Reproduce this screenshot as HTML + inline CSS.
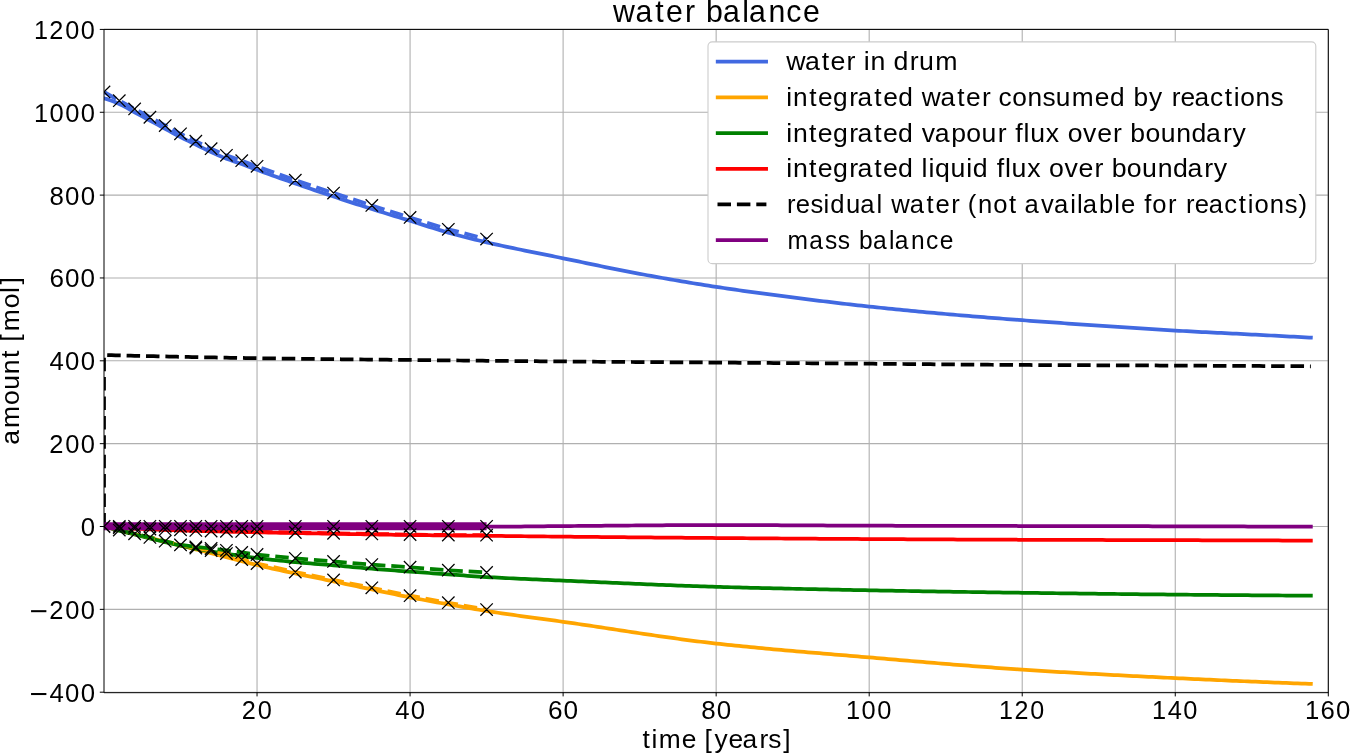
<!DOCTYPE html>
<html><head><meta charset="utf-8"><title>water balance</title>
<style>html,body{margin:0;padding:0;background:#fff;width:1350px;height:753px;overflow:hidden}svg text{-webkit-font-smoothing:antialiased}svg{will-change:transform}</style>
</head><body>
<svg width="1350" height="753" viewBox="0 0 1350 753" style="display:block">
<rect width="1350" height="753" fill="#fff"/>
<path d="M257.04,29.42V692.20M410.07,29.42V692.20M563.11,29.42V692.20M716.15,29.42V692.20M869.19,29.42V692.20M1022.22,29.42V692.20M1175.26,29.42V692.20M1328.30,29.42V692.20M104.00,692.20H1328.30M104.00,609.35H1328.30M104.00,526.50H1328.30M104.00,443.66H1328.30M104.00,360.81H1328.30M104.00,277.96H1328.30M104.00,195.11H1328.30M104.00,112.27H1328.30M104.00,29.42H1328.30" stroke="#b0b0b0" stroke-width="1.1" fill="none"/>
<defs><clipPath id="ax"><rect x="104.0" y="29.42" width="1224.3" height="662.7800000000001"/></clipPath></defs>
<g clip-path="url(#ax)" fill="none" stroke-linejoin="round">
<path d="M104.00,98.18 L107.83,99.41 L111.65,100.80 L115.48,102.33 L119.30,103.98 L123.13,105.85 L126.96,107.94 L130.78,110.13 L134.61,112.27 L138.43,114.34 L142.26,116.41 L146.09,118.48 L149.91,120.55 L153.74,122.62 L157.56,124.69 L161.39,126.77 L165.22,128.84 L169.04,130.93 L172.87,133.03 L176.69,135.11 L180.52,137.12 L184.34,139.04 L188.17,140.90 L192.00,142.73 L195.82,144.58 L199.65,146.46 L203.47,148.36 L207.30,150.23 L211.13,152.03 L214.95,153.78 L218.78,155.48 L222.60,157.12 L226.43,158.66 L230.26,160.08 L234.08,161.40 L237.91,162.70 L241.73,164.05 L245.56,165.47 L249.39,166.94 L253.21,168.41 L257.04,169.85 L260.86,171.25 L264.69,172.65 L268.52,174.04 L272.34,175.41 L276.17,176.78 L279.99,178.14 L283.82,179.49 L287.64,180.84 L291.47,182.18 L295.30,183.52 L299.12,184.85 L302.95,186.18 L306.77,187.50 L310.60,188.81 L314.43,190.12 L318.25,191.42 L322.08,192.72 L325.90,194.01 L329.73,195.29 L333.56,196.56 L337.38,197.83 L341.21,199.10 L345.03,200.36 L348.86,201.61 L352.69,202.86 L356.51,204.10 L360.34,205.33 L364.16,206.56 L367.99,207.78 L371.82,208.99 L375.64,210.20 L379.47,211.39 L383.29,212.58 L387.12,213.76 L390.95,214.93 L394.77,216.10 L398.60,217.28 L402.42,218.45 L406.25,219.62 L410.07,220.80 L413.90,221.99 L417.73,223.20 L421.55,224.41 L425.38,225.63 L429.20,226.84 L433.03,228.04 L436.86,229.23 L440.68,230.39 L444.51,231.51 L448.33,232.60 L452.16,233.66 L455.99,234.70 L459.81,235.72 L463.64,236.72 L467.46,237.70 L471.29,238.66 L475.12,239.60 L478.94,240.53 L482.77,241.44 L486.59,242.34 L490.42,243.22 L494.25,244.08 L498.07,244.93 L501.90,245.76 L505.72,246.59 L509.55,247.40 L513.38,248.20 L517.20,248.99 L521.03,249.78 L524.85,250.56 L528.68,251.34 L532.50,252.11 L536.33,252.88 L540.16,253.64 L543.98,254.41 L547.81,255.18 L551.63,255.95 L555.46,256.72 L559.29,257.50 L563.11,258.29 L566.94,259.08 L570.76,259.87 L574.59,260.66 L578.42,261.46 L582.24,262.26 L586.07,263.06 L589.89,263.86 L593.72,264.66 L597.55,265.45 L601.37,266.25 L605.20,267.04 L609.02,267.82 L612.85,268.60 L616.68,269.37 L620.50,270.14 L624.33,270.89 L628.15,271.64 L631.98,272.38 L635.81,273.10 L639.63,273.82 L643.46,274.53 L647.28,275.23 L651.11,275.93 L654.93,276.62 L658.76,277.31 L662.59,277.99 L666.41,278.66 L670.24,279.33 L674.06,280.00 L677.89,280.66 L681.72,281.31 L685.54,281.96 L689.37,282.60 L693.19,283.23 L697.02,283.85 L700.85,284.47 L704.67,285.08 L708.50,285.69 L712.32,286.28 L716.15,286.87 L719.98,287.45 L723.80,288.02 L727.63,288.59 L731.45,289.15 L735.28,289.70 L739.11,290.25 L742.93,290.79 L746.76,291.33 L750.58,291.86 L754.41,292.39 L758.24,292.91 L762.06,293.43 L765.89,293.94 L769.71,294.45 L773.54,294.95 L777.37,295.45 L781.19,295.95 L785.02,296.45 L788.84,296.94 L792.67,297.43 L796.49,297.92 L800.32,298.41 L804.15,298.89 L807.97,299.37 L811.80,299.85 L815.62,300.32 L819.45,300.79 L823.28,301.26 L827.10,301.73 L830.93,302.19 L834.75,302.64 L838.58,303.10 L842.41,303.54 L846.23,303.99 L850.06,304.43 L853.88,304.86 L857.71,305.29 L861.54,305.71 L865.36,306.13 L869.19,306.54 L873.01,306.95 L876.84,307.36 L880.67,307.76 L884.49,308.15 L888.32,308.55 L892.14,308.93 L895.97,309.32 L899.79,309.70 L903.62,310.08 L907.45,310.45 L911.27,310.82 L915.10,311.19 L918.92,311.55 L922.75,311.91 L926.58,312.27 L930.40,312.62 L934.23,312.97 L938.05,313.32 L941.88,313.66 L945.71,314.00 L949.53,314.34 L953.36,314.67 L957.18,315.00 L961.01,315.33 L964.84,315.65 L968.66,315.98 L972.49,316.29 L976.31,316.61 L980.14,316.92 L983.97,317.23 L987.79,317.54 L991.62,317.85 L995.44,318.15 L999.27,318.45 L1003.10,318.75 L1006.92,319.05 L1010.75,319.34 L1014.57,319.63 L1018.40,319.93 L1022.22,320.21 L1026.05,320.50 L1029.88,320.79 L1033.70,321.07 L1037.53,321.35 L1041.35,321.63 L1045.18,321.90 L1049.01,322.17 L1052.83,322.44 L1056.66,322.71 L1060.48,322.98 L1064.31,323.25 L1068.14,323.51 L1071.96,323.78 L1075.79,324.04 L1079.61,324.30 L1083.44,324.56 L1087.27,324.82 L1091.09,325.08 L1094.92,325.34 L1098.74,325.60 L1102.57,325.86 L1106.40,326.12 L1110.22,326.38 L1114.05,326.64 L1117.87,326.90 L1121.70,327.16 L1125.53,327.42 L1129.35,327.67 L1133.18,327.93 L1137.00,328.18 L1140.83,328.43 L1144.65,328.68 L1148.48,328.93 L1152.31,329.18 L1156.13,329.42 L1159.96,329.66 L1163.78,329.89 L1167.61,330.12 L1171.44,330.35 L1175.26,330.57 L1179.09,330.79 L1182.91,331.00 L1186.74,331.21 L1190.57,331.41 L1194.39,331.62 L1198.22,331.82 L1202.04,332.01 L1205.87,332.21 L1209.70,332.40 L1213.52,332.59 L1217.35,332.78 L1221.17,332.97 L1225.00,333.16 L1228.83,333.35 L1232.65,333.54 L1236.48,333.73 L1240.30,333.92 L1244.13,334.11 L1247.96,334.31 L1251.78,334.51 L1255.61,334.71 L1259.43,334.90 L1263.26,335.10 L1267.09,335.30 L1270.91,335.50 L1274.74,335.71 L1278.56,335.91 L1282.39,336.11 L1286.21,336.31 L1290.04,336.51 L1293.87,336.71 L1297.69,336.92 L1301.52,337.12 L1305.34,337.32 L1309.17,337.52 L1310.85,337.61" stroke="#4169e1" stroke-width="3.75" stroke-linecap="square"/>
<path d="M104.00,526.50 L107.83,527.46 L111.65,528.41 L115.48,529.36 L119.30,530.32 L123.13,531.27 L126.96,532.22 L130.78,533.17 L134.61,534.13 L138.43,535.08 L142.26,536.03 L146.09,536.99 L149.91,537.94 L153.74,538.89 L157.56,539.84 L161.39,540.80 L165.22,541.75 L169.04,542.70 L172.87,543.65 L176.69,544.61 L180.52,545.56 L184.34,546.51 L188.17,547.46 L192.00,548.41 L195.82,549.35 L199.65,550.30 L203.47,551.25 L207.30,552.20 L211.13,553.16 L214.95,554.12 L218.78,555.09 L222.60,556.07 L226.43,557.07 L230.26,558.09 L234.08,559.11 L237.91,560.13 L241.73,561.14 L245.56,562.15 L249.39,563.13 L253.21,564.10 L257.04,565.03 L260.86,565.94 L264.69,566.82 L268.52,567.70 L272.34,568.55 L276.17,569.40 L279.99,570.23 L283.82,571.06 L287.64,571.89 L291.47,572.70 L295.30,573.52 L299.12,574.33 L302.95,575.13 L306.77,575.92 L310.60,576.70 L314.43,577.48 L318.25,578.26 L322.08,579.03 L325.90,579.81 L329.73,580.60 L333.56,581.39 L337.38,582.19 L341.21,583.00 L345.03,583.81 L348.86,584.62 L352.69,585.43 L356.51,586.24 L360.34,587.05 L364.16,587.86 L367.99,588.67 L371.82,589.47 L375.64,590.27 L379.47,591.07 L383.29,591.87 L387.12,592.67 L390.95,593.47 L394.77,594.26 L398.60,595.05 L402.42,595.82 L406.25,596.59 L410.07,597.34 L413.90,598.08 L417.73,598.80 L421.55,599.52 L425.38,600.23 L429.20,600.94 L433.03,601.63 L436.86,602.33 L440.68,603.01 L444.51,603.70 L448.33,604.38 L452.16,605.07 L455.99,605.75 L459.81,606.44 L463.64,607.12 L467.46,607.80 L471.29,608.47 L475.12,609.12 L478.94,609.77 L482.77,610.40 L486.59,611.01 L490.42,611.60 L494.25,612.19 L498.07,612.76 L501.90,613.32 L505.72,613.88 L509.55,614.42 L513.38,614.96 L517.20,615.49 L521.03,616.02 L524.85,616.55 L528.68,617.07 L532.50,617.59 L536.33,618.10 L540.16,618.62 L543.98,619.14 L547.81,619.66 L551.63,620.18 L555.46,620.71 L559.29,621.24 L563.11,621.78 L566.94,622.32 L570.76,622.87 L574.59,623.43 L578.42,623.99 L582.24,624.55 L586.07,625.12 L589.89,625.69 L593.72,626.27 L597.55,626.85 L601.37,627.43 L605.20,628.01 L609.02,628.59 L612.85,629.17 L616.68,629.76 L620.50,630.34 L624.33,630.92 L628.15,631.51 L631.98,632.09 L635.81,632.66 L639.63,633.24 L643.46,633.81 L647.28,634.38 L651.11,634.95 L654.93,635.51 L658.76,636.07 L662.59,636.62 L666.41,637.16 L670.24,637.70 L674.06,638.23 L677.89,638.76 L681.72,639.28 L685.54,639.79 L689.37,640.29 L693.19,640.78 L697.02,641.27 L700.85,641.74 L704.67,642.20 L708.50,642.66 L712.32,643.10 L716.15,643.53 L719.98,643.95 L723.80,644.36 L727.63,644.77 L731.45,645.17 L735.28,645.57 L739.11,645.96 L742.93,646.34 L746.76,646.72 L750.58,647.10 L754.41,647.47 L758.24,647.83 L762.06,648.20 L765.89,648.55 L769.71,648.91 L773.54,649.26 L777.37,649.60 L781.19,649.95 L785.02,650.29 L788.84,650.62 L792.67,650.96 L796.49,651.29 L800.32,651.62 L804.15,651.95 L807.97,652.27 L811.80,652.60 L815.62,652.92 L819.45,653.24 L823.28,653.56 L827.10,653.88 L830.93,654.20 L834.75,654.52 L838.58,654.84 L842.41,655.16 L846.23,655.48 L850.06,655.80 L853.88,656.12 L857.71,656.44 L861.54,656.76 L865.36,657.08 L869.19,657.40 L873.01,657.73 L876.84,658.06 L880.67,658.38 L884.49,658.71 L888.32,659.04 L892.14,659.36 L895.97,659.69 L899.79,660.02 L903.62,660.34 L907.45,660.67 L911.27,661.00 L915.10,661.32 L918.92,661.65 L922.75,661.97 L926.58,662.29 L930.40,662.61 L934.23,662.94 L938.05,663.25 L941.88,663.57 L945.71,663.89 L949.53,664.20 L953.36,664.51 L957.18,664.82 L961.01,665.13 L964.84,665.43 L968.66,665.73 L972.49,666.03 L976.31,666.33 L980.14,666.62 L983.97,666.91 L987.79,667.20 L991.62,667.49 L995.44,667.77 L999.27,668.04 L1003.10,668.32 L1006.92,668.59 L1010.75,668.85 L1014.57,669.11 L1018.40,669.37 L1022.22,669.62 L1026.05,669.87 L1029.88,670.12 L1033.70,670.36 L1037.53,670.61 L1041.35,670.85 L1045.18,671.08 L1049.01,671.32 L1052.83,671.55 L1056.66,671.79 L1060.48,672.01 L1064.31,672.24 L1068.14,672.47 L1071.96,672.69 L1075.79,672.91 L1079.61,673.13 L1083.44,673.35 L1087.27,673.56 L1091.09,673.78 L1094.92,673.99 L1098.74,674.20 L1102.57,674.41 L1106.40,674.62 L1110.22,674.82 L1114.05,675.03 L1117.87,675.23 L1121.70,675.43 L1125.53,675.63 L1129.35,675.83 L1133.18,676.03 L1137.00,676.22 L1140.83,676.42 L1144.65,676.61 L1148.48,676.80 L1152.31,676.99 L1156.13,677.18 L1159.96,677.37 L1163.78,677.56 L1167.61,677.75 L1171.44,677.93 L1175.26,678.12 L1179.09,678.30 L1182.91,678.48 L1186.74,678.66 L1190.57,678.84 L1194.39,679.02 L1198.22,679.20 L1202.04,679.38 L1205.87,679.56 L1209.70,679.73 L1213.52,679.91 L1217.35,680.08 L1221.17,680.25 L1225.00,680.42 L1228.83,680.59 L1232.65,680.76 L1236.48,680.92 L1240.30,681.09 L1244.13,681.25 L1247.96,681.42 L1251.78,681.58 L1255.61,681.74 L1259.43,681.90 L1263.26,682.06 L1267.09,682.21 L1270.91,682.37 L1274.74,682.52 L1278.56,682.68 L1282.39,682.83 L1286.21,682.98 L1290.04,683.13 L1293.87,683.28 L1297.69,683.42 L1301.52,683.57 L1305.34,683.71 L1309.17,683.85 L1310.85,683.92" stroke="#ffa500" stroke-width="3.75" stroke-linecap="square"/>
<path d="M104.00,526.50 L107.83,527.54 L111.65,528.56 L115.48,529.58 L119.30,530.58 L123.13,531.58 L126.96,532.57 L130.78,533.55 L134.61,534.53 L138.43,535.49 L142.26,536.45 L146.09,537.40 L149.91,538.36 L153.74,539.31 L157.56,540.26 L161.39,541.20 L165.22,542.12 L169.04,543.02 L172.87,543.90 L176.69,544.75 L180.52,545.56 L184.34,546.35 L188.17,547.11 L192.00,547.86 L195.82,548.60 L199.65,549.31 L203.47,550.01 L207.30,550.68 L211.13,551.34 L214.95,551.98 L218.78,552.60 L222.60,553.20 L226.43,553.79 L230.26,554.37 L234.08,554.93 L237.91,555.47 L241.73,556.00 L245.56,556.52 L249.39,557.02 L253.21,557.51 L257.04,557.99 L260.86,558.45 L264.69,558.90 L268.52,559.34 L272.34,559.77 L276.17,560.19 L279.99,560.60 L283.82,561.00 L287.64,561.39 L291.47,561.76 L295.30,562.13 L299.12,562.48 L302.95,562.82 L306.77,563.14 L310.60,563.46 L314.43,563.76 L318.25,564.07 L322.08,564.37 L325.90,564.68 L329.73,565.00 L333.56,565.32 L337.38,565.65 L341.21,565.99 L345.03,566.34 L348.86,566.69 L352.69,567.04 L356.51,567.39 L360.34,567.73 L364.16,568.07 L367.99,568.40 L371.82,568.72 L375.64,569.03 L379.47,569.33 L383.29,569.62 L387.12,569.92 L390.95,570.20 L394.77,570.49 L398.60,570.77 L402.42,571.05 L406.25,571.33 L410.07,571.62 L413.90,571.90 L417.73,572.17 L421.55,572.45 L425.38,572.72 L429.20,573.00 L433.03,573.27 L436.86,573.54 L440.68,573.81 L444.51,574.08 L448.33,574.35 L452.16,574.62 L455.99,574.91 L459.81,575.19 L463.64,575.48 L467.46,575.76 L471.29,576.04 L475.12,576.31 L478.94,576.57 L482.77,576.81 L486.59,577.04 L490.42,577.26 L494.25,577.47 L498.07,577.67 L501.90,577.87 L505.72,578.06 L509.55,578.25 L513.38,578.43 L517.20,578.61 L521.03,578.78 L524.85,578.95 L528.68,579.12 L532.50,579.29 L536.33,579.46 L540.16,579.62 L543.98,579.78 L547.81,579.95 L551.63,580.11 L555.46,580.27 L559.29,580.44 L563.11,580.60 L566.94,580.77 L570.76,580.94 L574.59,581.11 L578.42,581.28 L582.24,581.45 L586.07,581.62 L589.89,581.79 L593.72,581.96 L597.55,582.14 L601.37,582.31 L605.20,582.48 L609.02,582.65 L612.85,582.82 L616.68,582.99 L620.50,583.16 L624.33,583.33 L628.15,583.49 L631.98,583.66 L635.81,583.83 L639.63,583.99 L643.46,584.15 L647.28,584.31 L651.11,584.47 L654.93,584.63 L658.76,584.79 L662.59,584.94 L666.41,585.09 L670.24,585.24 L674.06,585.39 L677.89,585.53 L681.72,585.68 L685.54,585.81 L689.37,585.95 L693.19,586.08 L697.02,586.22 L700.85,586.34 L704.67,586.47 L708.50,586.59 L712.32,586.70 L716.15,586.82 L719.98,586.93 L723.80,587.04 L727.63,587.14 L731.45,587.25 L735.28,587.35 L739.11,587.46 L742.93,587.56 L746.76,587.66 L750.58,587.76 L754.41,587.85 L758.24,587.95 L762.06,588.04 L765.89,588.14 L769.71,588.23 L773.54,588.32 L777.37,588.41 L781.19,588.49 L785.02,588.58 L788.84,588.67 L792.67,588.75 L796.49,588.84 L800.32,588.92 L804.15,589.00 L807.97,589.08 L811.80,589.16 L815.62,589.24 L819.45,589.32 L823.28,589.40 L827.10,589.48 L830.93,589.56 L834.75,589.63 L838.58,589.71 L842.41,589.78 L846.23,589.86 L850.06,589.93 L853.88,590.01 L857.71,590.08 L861.54,590.15 L865.36,590.22 L869.19,590.30 L873.01,590.37 L876.84,590.44 L880.67,590.51 L884.49,590.58 L888.32,590.65 L892.14,590.72 L895.97,590.79 L899.79,590.86 L903.62,590.93 L907.45,591.00 L911.27,591.06 L915.10,591.13 L918.92,591.19 L922.75,591.26 L926.58,591.32 L930.40,591.39 L934.23,591.45 L938.05,591.51 L941.88,591.58 L945.71,591.64 L949.53,591.70 L953.36,591.76 L957.18,591.82 L961.01,591.88 L964.84,591.94 L968.66,592.00 L972.49,592.06 L976.31,592.12 L980.14,592.18 L983.97,592.23 L987.79,592.29 L991.62,592.35 L995.44,592.40 L999.27,592.46 L1003.10,592.51 L1006.92,592.57 L1010.75,592.62 L1014.57,592.68 L1018.40,592.73 L1022.22,592.78 L1026.05,592.84 L1029.88,592.89 L1033.70,592.94 L1037.53,592.99 L1041.35,593.04 L1045.18,593.09 L1049.01,593.14 L1052.83,593.20 L1056.66,593.25 L1060.48,593.30 L1064.31,593.35 L1068.14,593.39 L1071.96,593.44 L1075.79,593.49 L1079.61,593.54 L1083.44,593.59 L1087.27,593.64 L1091.09,593.68 L1094.92,593.73 L1098.74,593.78 L1102.57,593.82 L1106.40,593.87 L1110.22,593.91 L1114.05,593.96 L1117.87,594.00 L1121.70,594.04 L1125.53,594.09 L1129.35,594.13 L1133.18,594.17 L1137.00,594.22 L1140.83,594.26 L1144.65,594.30 L1148.48,594.34 L1152.31,594.38 L1156.13,594.42 L1159.96,594.46 L1163.78,594.49 L1167.61,594.53 L1171.44,594.57 L1175.26,594.61 L1179.09,594.64 L1182.91,594.68 L1186.74,594.71 L1190.57,594.75 L1194.39,594.78 L1198.22,594.82 L1202.04,594.85 L1205.87,594.89 L1209.70,594.92 L1213.52,594.95 L1217.35,594.99 L1221.17,595.02 L1225.00,595.05 L1228.83,595.09 L1232.65,595.12 L1236.48,595.15 L1240.30,595.18 L1244.13,595.21 L1247.96,595.24 L1251.78,595.27 L1255.61,595.30 L1259.43,595.33 L1263.26,595.36 L1267.09,595.39 L1270.91,595.42 L1274.74,595.44 L1278.56,595.47 L1282.39,595.50 L1286.21,595.52 L1290.04,595.55 L1293.87,595.57 L1297.69,595.60 L1301.52,595.62 L1305.34,595.65 L1309.17,595.67 L1310.85,595.68" stroke="#008000" stroke-width="3.75" stroke-linecap="square"/>
<path d="M104.00,526.50 L107.83,526.80 L111.65,527.09 L115.48,527.37 L119.30,527.64 L123.13,527.89 L126.96,528.14 L130.78,528.37 L134.61,528.59 L138.43,528.80 L142.26,528.99 L146.09,529.17 L149.91,529.34 L153.74,529.50 L157.56,529.65 L161.39,529.80 L165.22,529.94 L169.04,530.07 L172.87,530.20 L176.69,530.32 L180.52,530.44 L184.34,530.55 L188.17,530.67 L192.00,530.77 L195.82,530.88 L199.65,530.98 L203.47,531.08 L207.30,531.18 L211.13,531.27 L214.95,531.37 L218.78,531.46 L222.60,531.55 L226.43,531.64 L230.26,531.72 L234.08,531.81 L237.91,531.89 L241.73,531.98 L245.56,532.06 L249.39,532.14 L253.21,532.22 L257.04,532.30 L260.86,532.39 L264.69,532.46 L268.52,532.54 L272.34,532.62 L276.17,532.70 L279.99,532.77 L283.82,532.85 L287.64,532.92 L291.47,532.99 L295.30,533.07 L299.12,533.14 L302.95,533.21 L306.77,533.28 L310.60,533.35 L314.43,533.42 L318.25,533.48 L322.08,533.55 L325.90,533.62 L329.73,533.69 L333.56,533.75 L337.38,533.82 L341.21,533.89 L345.03,533.96 L348.86,534.02 L352.69,534.09 L356.51,534.16 L360.34,534.22 L364.16,534.29 L367.99,534.35 L371.82,534.42 L375.64,534.48 L379.47,534.54 L383.29,534.61 L387.12,534.67 L390.95,534.73 L394.77,534.78 L398.60,534.84 L402.42,534.89 L406.25,534.95 L410.07,535.00 L413.90,535.05 L417.73,535.09 L421.55,535.14 L425.38,535.18 L429.20,535.23 L433.03,535.27 L436.86,535.31 L440.68,535.35 L444.51,535.39 L448.33,535.43 L452.16,535.47 L455.99,535.51 L459.81,535.55 L463.64,535.59 L467.46,535.63 L471.29,535.66 L475.12,535.70 L478.94,535.74 L482.77,535.78 L486.59,535.83 L490.42,535.87 L494.25,535.91 L498.07,535.95 L501.90,535.99 L505.72,536.04 L509.55,536.08 L513.38,536.12 L517.20,536.16 L521.03,536.21 L524.85,536.25 L528.68,536.29 L532.50,536.33 L536.33,536.37 L540.16,536.42 L543.98,536.46 L547.81,536.50 L551.63,536.54 L555.46,536.58 L559.29,536.62 L563.11,536.65 L566.94,536.69 L570.76,536.73 L574.59,536.77 L578.42,536.80 L582.24,536.84 L586.07,536.88 L589.89,536.92 L593.72,536.95 L597.55,536.99 L601.37,537.03 L605.20,537.06 L609.02,537.10 L612.85,537.13 L616.68,537.17 L620.50,537.20 L624.33,537.24 L628.15,537.28 L631.98,537.31 L635.81,537.34 L639.63,537.38 L643.46,537.41 L647.28,537.45 L651.11,537.48 L654.93,537.52 L658.76,537.55 L662.59,537.58 L666.41,537.61 L670.24,537.65 L674.06,537.68 L677.89,537.71 L681.72,537.74 L685.54,537.78 L689.37,537.81 L693.19,537.84 L697.02,537.87 L700.85,537.90 L704.67,537.93 L708.50,537.96 L712.32,537.99 L716.15,538.02 L719.98,538.05 L723.80,538.08 L727.63,538.11 L731.45,538.14 L735.28,538.17 L739.11,538.20 L742.93,538.22 L746.76,538.25 L750.58,538.28 L754.41,538.31 L758.24,538.34 L762.06,538.36 L765.89,538.39 L769.71,538.42 L773.54,538.45 L777.37,538.47 L781.19,538.50 L785.02,538.53 L788.84,538.55 L792.67,538.58 L796.49,538.61 L800.32,538.63 L804.15,538.66 L807.97,538.68 L811.80,538.71 L815.62,538.73 L819.45,538.76 L823.28,538.78 L827.10,538.81 L830.93,538.83 L834.75,538.86 L838.58,538.88 L842.41,538.90 L846.23,538.93 L850.06,538.95 L853.88,538.97 L857.71,538.99 L861.54,539.01 L865.36,539.04 L869.19,539.06 L873.01,539.08 L876.84,539.10 L880.67,539.12 L884.49,539.14 L888.32,539.16 L892.14,539.18 L895.97,539.20 L899.79,539.22 L903.62,539.24 L907.45,539.26 L911.27,539.28 L915.10,539.30 L918.92,539.32 L922.75,539.34 L926.58,539.36 L930.40,539.37 L934.23,539.39 L938.05,539.41 L941.88,539.43 L945.71,539.45 L949.53,539.47 L953.36,539.48 L957.18,539.50 L961.01,539.52 L964.84,539.54 L968.66,539.55 L972.49,539.57 L976.31,539.58 L980.14,539.60 L983.97,539.62 L987.79,539.63 L991.62,539.65 L995.44,539.66 L999.27,539.68 L1003.10,539.69 L1006.92,539.71 L1010.75,539.72 L1014.57,539.73 L1018.40,539.75 L1022.22,539.76 L1026.05,539.77 L1029.88,539.79 L1033.70,539.80 L1037.53,539.81 L1041.35,539.82 L1045.18,539.83 L1049.01,539.85 L1052.83,539.86 L1056.66,539.87 L1060.48,539.88 L1064.31,539.89 L1068.14,539.90 L1071.96,539.91 L1075.79,539.92 L1079.61,539.93 L1083.44,539.94 L1087.27,539.95 L1091.09,539.96 L1094.92,539.97 L1098.74,539.98 L1102.57,539.99 L1106.40,540.00 L1110.22,540.01 L1114.05,540.02 L1117.87,540.03 L1121.70,540.03 L1125.53,540.04 L1129.35,540.05 L1133.18,540.06 L1137.00,540.07 L1140.83,540.08 L1144.65,540.09 L1148.48,540.10 L1152.31,540.11 L1156.13,540.12 L1159.96,540.13 L1163.78,540.14 L1167.61,540.15 L1171.44,540.16 L1175.26,540.17 L1179.09,540.19 L1182.91,540.20 L1186.74,540.21 L1190.57,540.22 L1194.39,540.23 L1198.22,540.24 L1202.04,540.25 L1205.87,540.26 L1209.70,540.28 L1213.52,540.29 L1217.35,540.30 L1221.17,540.31 L1225.00,540.32 L1228.83,540.33 L1232.65,540.34 L1236.48,540.36 L1240.30,540.37 L1244.13,540.38 L1247.96,540.39 L1251.78,540.40 L1255.61,540.41 L1259.43,540.43 L1263.26,540.44 L1267.09,540.45 L1270.91,540.46 L1274.74,540.47 L1278.56,540.49 L1282.39,540.50 L1286.21,540.51 L1290.04,540.52 L1293.87,540.53 L1297.69,540.55 L1301.52,540.56 L1305.34,540.57 L1309.17,540.58 L1310.85,540.59" stroke="#ff0000" stroke-width="3.75" stroke-linecap="square"/>
<path d="M104.00,526.50 L104.00,355.01 L107.83,355.11 L111.65,355.20 L115.48,355.30 L119.30,355.39 L123.13,355.49 L126.96,355.58 L130.78,355.68 L134.61,355.77 L138.43,355.86 L142.26,355.95 L146.09,356.04 L149.91,356.13 L153.74,356.22 L157.56,356.30 L161.39,356.39 L165.22,356.47 L169.04,356.56 L172.87,356.64 L176.69,356.72 L180.52,356.81 L184.34,356.89 L188.17,356.97 L192.00,357.04 L195.82,357.12 L199.65,357.20 L203.47,357.27 L207.30,357.35 L211.13,357.42 L214.95,357.49 L218.78,357.56 L222.60,357.63 L226.43,357.70 L230.26,357.77 L234.08,357.83 L237.91,357.90 L241.73,357.96 L245.56,358.02 L249.39,358.08 L253.21,358.14 L257.04,358.20 L260.86,358.26 L264.69,358.31 L268.52,358.37 L272.34,358.42 L276.17,358.47 L279.99,358.53 L283.82,358.58 L287.64,358.63 L291.47,358.68 L295.30,358.72 L299.12,358.77 L302.95,358.82 L306.77,358.87 L310.60,358.91 L314.43,358.96 L318.25,359.00 L322.08,359.04 L325.90,359.09 L329.73,359.13 L333.56,359.17 L337.38,359.22 L341.21,359.26 L345.03,359.30 L348.86,359.34 L352.69,359.38 L356.51,359.42 L360.34,359.46 L364.16,359.50 L367.99,359.54 L371.82,359.58 L375.64,359.62 L379.47,359.66 L383.29,359.70 L387.12,359.74 L390.95,359.78 L394.77,359.82 L398.60,359.86 L402.42,359.90 L406.25,359.94 L410.07,359.98 L413.90,360.02 L417.73,360.06 L421.55,360.10 L425.38,360.14 L429.20,360.18 L433.03,360.22 L436.86,360.26 L440.68,360.30 L444.51,360.34 L448.33,360.38 L452.16,360.42 L455.99,360.46 L459.81,360.50 L463.64,360.54 L467.46,360.58 L471.29,360.62 L475.12,360.66 L478.94,360.69 L482.77,360.73 L486.59,360.77 L490.42,360.81 L494.25,360.85 L498.07,360.88 L501.90,360.92 L505.72,360.96 L509.55,360.99 L513.38,361.03 L517.20,361.07 L521.03,361.10 L524.85,361.14 L528.68,361.17 L532.50,361.21 L536.33,361.24 L540.16,361.27 L543.98,361.31 L547.81,361.34 L551.63,361.38 L555.46,361.41 L559.29,361.44 L563.11,361.47 L566.94,361.50 L570.76,361.54 L574.59,361.57 L578.42,361.60 L582.24,361.63 L586.07,361.66 L589.89,361.69 L593.72,361.72 L597.55,361.75 L601.37,361.77 L605.20,361.80 L609.02,361.83 L612.85,361.86 L616.68,361.89 L620.50,361.92 L624.33,361.94 L628.15,361.97 L631.98,362.00 L635.81,362.02 L639.63,362.05 L643.46,362.08 L647.28,362.11 L651.11,362.13 L654.93,362.16 L658.76,362.19 L662.59,362.21 L666.41,362.24 L670.24,362.27 L674.06,362.29 L677.89,362.32 L681.72,362.35 L685.54,362.37 L689.37,362.40 L693.19,362.43 L697.02,362.45 L700.85,362.48 L704.67,362.51 L708.50,362.54 L712.32,362.56 L716.15,362.59 L719.98,362.62 L723.80,362.65 L727.63,362.67 L731.45,362.70 L735.28,362.73 L739.11,362.76 L742.93,362.79 L746.76,362.81 L750.58,362.84 L754.41,362.87 L758.24,362.90 L762.06,362.92 L765.89,362.95 L769.71,362.98 L773.54,363.01 L777.37,363.03 L781.19,363.06 L785.02,363.09 L788.84,363.12 L792.67,363.14 L796.49,363.17 L800.32,363.20 L804.15,363.23 L807.97,363.25 L811.80,363.28 L815.62,363.31 L819.45,363.34 L823.28,363.37 L827.10,363.39 L830.93,363.42 L834.75,363.45 L838.58,363.48 L842.41,363.51 L846.23,363.54 L850.06,363.56 L853.88,363.59 L857.71,363.62 L861.54,363.65 L865.36,363.68 L869.19,363.71 L873.01,363.74 L876.84,363.77 L880.67,363.80 L884.49,363.83 L888.32,363.86 L892.14,363.90 L895.97,363.93 L899.79,363.96 L903.62,364.00 L907.45,364.03 L911.27,364.06 L915.10,364.10 L918.92,364.13 L922.75,364.17 L926.58,364.20 L930.40,364.24 L934.23,364.27 L938.05,364.31 L941.88,364.34 L945.71,364.37 L949.53,364.41 L953.36,364.44 L957.18,364.48 L961.01,364.51 L964.84,364.54 L968.66,364.57 L972.49,364.61 L976.31,364.64 L980.14,364.67 L983.97,364.70 L987.79,364.73 L991.62,364.75 L995.44,364.78 L999.27,364.81 L1003.10,364.84 L1006.92,364.86 L1010.75,364.89 L1014.57,364.91 L1018.40,364.93 L1022.22,364.95 L1026.05,364.97 L1029.88,364.99 L1033.70,365.01 L1037.53,365.03 L1041.35,365.05 L1045.18,365.07 L1049.01,365.08 L1052.83,365.10 L1056.66,365.12 L1060.48,365.13 L1064.31,365.15 L1068.14,365.16 L1071.96,365.18 L1075.79,365.19 L1079.61,365.21 L1083.44,365.22 L1087.27,365.24 L1091.09,365.25 L1094.92,365.27 L1098.74,365.28 L1102.57,365.29 L1106.40,365.31 L1110.22,365.32 L1114.05,365.33 L1117.87,365.35 L1121.70,365.36 L1125.53,365.38 L1129.35,365.39 L1133.18,365.40 L1137.00,365.42 L1140.83,365.43 L1144.65,365.45 L1148.48,365.46 L1152.31,365.48 L1156.13,365.49 L1159.96,365.51 L1163.78,365.52 L1167.61,365.54 L1171.44,365.56 L1175.26,365.57 L1179.09,365.59 L1182.91,365.61 L1186.74,365.63 L1190.57,365.64 L1194.39,365.66 L1198.22,365.68 L1202.04,365.70 L1205.87,365.72 L1209.70,365.74 L1213.52,365.76 L1217.35,365.78 L1221.17,365.79 L1225.00,365.81 L1228.83,365.83 L1232.65,365.85 L1236.48,365.87 L1240.30,365.89 L1244.13,365.91 L1247.96,365.93 L1251.78,365.95 L1255.61,365.97 L1259.43,365.99 L1263.26,366.01 L1267.09,366.03 L1270.91,366.05 L1274.74,366.08 L1278.56,366.10 L1282.39,366.12 L1286.21,366.14 L1290.04,366.16 L1293.87,366.18 L1297.69,366.20 L1301.52,366.22 L1305.34,366.25 L1309.17,366.27 L1310.85,366.28" stroke="#000" stroke-width="3.75" stroke-dasharray="13.5 5.9" stroke-dashoffset="19.30" stroke-linecap="butt"/>
<path d="M104.00,526.71 L107.83,526.71 L111.65,526.71 L115.48,526.71 L119.30,526.71 L123.13,526.71 L126.96,526.71 L130.78,526.71 L134.61,526.71 L138.43,526.71 L142.26,526.71 L146.09,526.71 L149.91,526.71 L153.74,526.71 L157.56,526.71 L161.39,526.71 L165.22,526.71 L169.04,526.71 L172.87,526.71 L176.69,526.71 L180.52,526.71 L184.34,526.71 L188.17,526.71 L192.00,526.71 L195.82,526.71 L199.65,526.71 L203.47,526.71 L207.30,526.71 L211.13,526.71 L214.95,526.71 L218.78,526.71 L222.60,526.71 L226.43,526.71 L230.26,526.71 L234.08,526.71 L237.91,526.71 L241.73,526.71 L245.56,526.71 L249.39,526.71 L253.21,526.71 L257.04,526.71 L260.86,526.71 L264.69,526.71 L268.52,526.71 L272.34,526.71 L276.17,526.71 L279.99,526.71 L283.82,526.71 L287.64,526.71 L291.47,526.71 L295.30,526.71 L299.12,526.71 L302.95,526.71 L306.77,526.71 L310.60,526.71 L314.43,526.71 L318.25,526.71 L322.08,526.71 L325.90,526.71 L329.73,526.71 L333.56,526.71 L337.38,526.71 L341.21,526.71 L345.03,526.71 L348.86,526.71 L352.69,526.71 L356.51,526.71 L360.34,526.71 L364.16,526.71 L367.99,526.71 L371.82,526.71 L375.64,526.71 L379.47,526.71 L383.29,526.71 L387.12,526.71 L390.95,526.71 L394.77,526.71 L398.60,526.71 L402.42,526.71 L406.25,526.71 L410.07,526.71 L413.90,526.71 L417.73,526.71 L421.55,526.71 L425.38,526.71 L429.20,526.71 L433.03,526.71 L436.86,526.71 L440.68,526.71 L444.51,526.71 L448.33,526.71 L452.16,526.71 L455.99,526.71 L459.81,526.71 L463.64,526.71 L467.46,526.71 L471.29,526.71 L475.12,526.71 L478.94,526.71 L482.77,526.71 L486.59,526.71 L490.42,526.71 L494.25,526.70 L498.07,526.69 L501.90,526.67 L505.72,526.64 L509.55,526.61 L513.38,526.58 L517.20,526.55 L521.03,526.51 L524.85,526.47 L528.68,526.43 L532.50,526.39 L536.33,526.35 L540.16,526.31 L543.98,526.27 L547.81,526.23 L551.63,526.19 L555.46,526.15 L559.29,526.12 L563.11,526.09 L566.94,526.06 L570.76,526.03 L574.59,526.00 L578.42,525.97 L582.24,525.94 L586.07,525.90 L589.89,525.87 L593.72,525.84 L597.55,525.80 L601.37,525.77 L605.20,525.73 L609.02,525.70 L612.85,525.66 L616.68,525.63 L620.50,525.60 L624.33,525.56 L628.15,525.53 L631.98,525.50 L635.81,525.46 L639.63,525.43 L643.46,525.40 L647.28,525.37 L651.11,525.34 L654.93,525.31 L658.76,525.28 L662.59,525.26 L666.41,525.23 L670.24,525.21 L674.06,525.18 L677.89,525.16 L681.72,525.14 L685.54,525.13 L689.37,525.11 L693.19,525.10 L697.02,525.08 L700.85,525.07 L704.67,525.07 L708.50,525.06 L712.32,525.06 L716.15,525.06 L719.98,525.06 L723.80,525.06 L727.63,525.06 L731.45,525.07 L735.28,525.08 L739.11,525.08 L742.93,525.09 L746.76,525.11 L750.58,525.12 L754.41,525.13 L758.24,525.15 L762.06,525.16 L765.89,525.18 L769.71,525.20 L773.54,525.21 L777.37,525.23 L781.19,525.25 L785.02,525.27 L788.84,525.29 L792.67,525.31 L796.49,525.33 L800.32,525.35 L804.15,525.37 L807.97,525.40 L811.80,525.42 L815.62,525.44 L819.45,525.46 L823.28,525.48 L827.10,525.50 L830.93,525.52 L834.75,525.54 L838.58,525.56 L842.41,525.57 L846.23,525.59 L850.06,525.61 L853.88,525.62 L857.71,525.64 L861.54,525.65 L865.36,525.67 L869.19,525.68 L873.01,525.69 L876.84,525.70 L880.67,525.71 L884.49,525.72 L888.32,525.73 L892.14,525.74 L895.97,525.75 L899.79,525.76 L903.62,525.77 L907.45,525.77 L911.27,525.78 L915.10,525.79 L918.92,525.80 L922.75,525.81 L926.58,525.82 L930.40,525.83 L934.23,525.83 L938.05,525.84 L941.88,525.85 L945.71,525.86 L949.53,525.87 L953.36,525.87 L957.18,525.88 L961.01,525.89 L964.84,525.90 L968.66,525.90 L972.49,525.91 L976.31,525.92 L980.14,525.93 L983.97,525.93 L987.79,525.94 L991.62,525.95 L995.44,525.96 L999.27,525.96 L1003.10,525.97 L1006.92,525.98 L1010.75,525.99 L1014.57,525.99 L1018.40,526.00 L1022.22,526.01 L1026.05,526.02 L1029.88,526.02 L1033.70,526.03 L1037.53,526.04 L1041.35,526.05 L1045.18,526.05 L1049.01,526.06 L1052.83,526.07 L1056.66,526.07 L1060.48,526.08 L1064.31,526.09 L1068.14,526.09 L1071.96,526.10 L1075.79,526.11 L1079.61,526.11 L1083.44,526.12 L1087.27,526.13 L1091.09,526.13 L1094.92,526.14 L1098.74,526.15 L1102.57,526.15 L1106.40,526.16 L1110.22,526.17 L1114.05,526.17 L1117.87,526.18 L1121.70,526.19 L1125.53,526.19 L1129.35,526.20 L1133.18,526.21 L1137.00,526.22 L1140.83,526.22 L1144.65,526.23 L1148.48,526.24 L1152.31,526.25 L1156.13,526.26 L1159.96,526.26 L1163.78,526.27 L1167.61,526.28 L1171.44,526.29 L1175.26,526.30 L1179.09,526.31 L1182.91,526.32 L1186.74,526.33 L1190.57,526.34 L1194.39,526.35 L1198.22,526.36 L1202.04,526.37 L1205.87,526.38 L1209.70,526.39 L1213.52,526.40 L1217.35,526.41 L1221.17,526.42 L1225.00,526.43 L1228.83,526.44 L1232.65,526.45 L1236.48,526.46 L1240.30,526.48 L1244.13,526.49 L1247.96,526.50 L1251.78,526.51 L1255.61,526.52 L1259.43,526.54 L1263.26,526.55 L1267.09,526.56 L1270.91,526.57 L1274.74,526.59 L1278.56,526.60 L1282.39,526.61 L1286.21,526.63 L1290.04,526.64 L1293.87,526.65 L1297.69,526.67 L1301.52,526.68 L1305.34,526.69 L1309.17,526.71 L1310.85,526.71" stroke="#800080" stroke-width="3.75" stroke-linecap="square"/>
<path d="M104.00,91.97 L119.30,100.67 L134.61,108.95 L149.91,117.24 L165.22,125.52 L180.52,133.81 L195.82,141.26 L211.13,148.72 L226.43,155.35 L241.73,160.73 L257.04,166.33 L295.30,180.20 L333.56,193.04 L371.82,205.47 L410.07,217.48 L448.33,229.29 L486.59,239.02" stroke="#4169e1" stroke-width="3.75" stroke-dasharray="13.5 5.9" stroke-dashoffset="18.90" stroke-linecap="butt"/>
<path d="M104.00,526.50 L119.30,530.03 L134.61,533.75 L149.91,537.48 L165.22,541.21 L180.52,544.94 L195.82,548.05 L211.13,550.61 L226.43,553.60 L241.73,559.60 L257.04,563.50 L295.30,572.07 L333.56,579.94 L371.82,587.81 L410.07,595.68 L448.33,602.72 L486.59,609.60" stroke="#ffa500" stroke-width="3.75" stroke-dasharray="13.5 5.9" stroke-dashoffset="0.01" stroke-linecap="butt"/>
<path d="M104.00,526.50 L119.30,530.03 L134.61,533.75 L149.91,537.48 L165.22,541.21 L180.52,544.81 L195.82,546.80 L211.13,548.50 L226.43,550.32 L241.73,552.39 L257.04,554.51 L295.30,558.32 L333.56,561.43 L371.82,564.61 L410.07,567.22 L448.33,570.21 L486.59,572.49" stroke="#008000" stroke-width="3.75" stroke-dasharray="13.5 5.9" stroke-dashoffset="0.46" stroke-linecap="butt"/>
<path d="M104.00,526.50 L119.30,527.54 L134.61,528.37 L149.91,528.99 L165.22,529.40 L180.52,529.82 L195.82,530.44 L211.13,531.06 L226.43,531.27 L241.73,531.48 L257.04,531.68 L295.30,532.51 L333.56,533.34 L371.82,533.96 L410.07,534.58 L448.33,535.00 L486.59,535.20" stroke="#ff0000" stroke-width="3.75" stroke-dasharray="13.5 5.9" stroke-dashoffset="0.00" stroke-linecap="butt"/>
<path d="M104.00,526.13 L486.59,526.13" stroke="#800080" stroke-width="8.0" stroke-linecap="butt"/>
<path d="M97.80,85.77L110.20,98.17M97.80,98.17L110.20,85.77M113.10,94.47L125.50,106.87M113.10,106.87L125.50,94.47M128.41,102.75L140.81,115.15M128.41,115.15L140.81,102.75M143.71,111.04L156.11,123.44M143.71,123.44L156.11,111.04M159.02,119.32L171.41,131.72M159.02,131.72L171.41,119.32M174.32,127.61L186.72,140.01M174.32,140.01L186.72,127.61M189.62,135.06L202.02,147.46M189.62,147.46L202.02,135.06M204.93,142.52L217.33,154.92M204.93,154.92L217.33,142.52M220.23,149.15L232.63,161.55M220.23,161.55L232.63,149.15M235.53,154.53L247.93,166.93M235.53,166.93L247.93,154.53M250.84,160.13L263.24,172.53M250.84,172.53L263.24,160.13M289.10,174.00L301.50,186.40M289.10,186.40L301.50,174.00M327.36,186.84L339.76,199.24M327.36,199.24L339.76,186.84M365.62,199.27L378.02,211.67M365.62,211.67L378.02,199.27M403.88,211.28L416.27,223.68M403.88,223.68L416.27,211.28M442.13,223.09L454.53,235.49M442.13,235.49L454.53,223.09M480.39,232.82L492.79,245.22M480.39,245.22L492.79,232.82M97.80,520.30L110.20,532.71M97.80,532.71L110.20,520.30M113.10,523.83L125.50,536.23M113.10,536.23L125.50,523.83M128.41,527.55L140.81,539.95M128.41,539.95L140.81,527.55M143.71,531.28L156.11,543.68M143.71,543.68L156.11,531.28M159.02,535.01L171.41,547.41M159.02,547.41L171.41,535.01M174.32,538.74L186.72,551.14M174.32,551.14L186.72,538.74M189.62,541.85L202.02,554.25M189.62,554.25L202.02,541.85M204.93,544.41L217.33,556.81M204.93,556.81L217.33,544.41M220.23,547.40L232.63,559.80M220.23,559.80L232.63,547.40M235.53,553.40L247.93,565.80M235.53,565.80L247.93,553.40M250.84,557.30L263.24,569.70M250.84,569.70L263.24,557.30M289.10,565.87L301.50,578.27M289.10,578.27L301.50,565.87M327.36,573.74L339.76,586.14M327.36,586.14L339.76,573.74M365.62,581.61L378.02,594.01M365.62,594.01L378.02,581.61M403.88,589.48L416.27,601.88M403.88,601.88L416.27,589.48M442.13,596.52L454.53,608.92M442.13,608.92L454.53,596.52M480.39,603.40L492.79,615.80M480.39,615.80L492.79,603.40M97.80,520.30L110.20,532.71M97.80,532.71L110.20,520.30M113.10,523.83L125.50,536.23M113.10,536.23L125.50,523.83M128.41,527.55L140.81,539.95M128.41,539.95L140.81,527.55M143.71,531.28L156.11,543.68M143.71,543.68L156.11,531.28M159.02,535.01L171.41,547.41M159.02,547.41L171.41,535.01M174.32,538.61L186.72,551.01M174.32,551.01L186.72,538.61M189.62,540.60L202.02,553.00M189.62,553.00L202.02,540.60M204.93,542.30L217.33,554.70M204.93,554.70L217.33,542.30M220.23,544.12L232.63,556.52M220.23,556.52L232.63,544.12M235.53,546.19L247.93,558.59M235.53,558.59L247.93,546.19M250.84,548.31L263.24,560.71M250.84,560.71L263.24,548.31M289.10,552.12L301.50,564.52M289.10,564.52L301.50,552.12M327.36,555.23L339.76,567.63M327.36,567.63L339.76,555.23M365.62,558.41L378.02,570.81M365.62,570.81L378.02,558.41M403.88,561.02L416.27,573.42M403.88,573.42L416.27,561.02M442.13,564.01L454.53,576.41M442.13,576.41L454.53,564.01M480.39,566.29L492.79,578.69M480.39,578.69L492.79,566.29M97.80,520.30L110.20,532.71M97.80,532.71L110.20,520.30M113.10,521.34L125.50,533.74M113.10,533.74L125.50,521.34M128.41,522.17L140.81,534.57M128.41,534.57L140.81,522.17M143.71,522.79L156.11,535.19M143.71,535.19L156.11,522.79M159.02,523.20L171.41,535.60M159.02,535.60L171.41,523.20M174.32,523.62L186.72,536.02M174.32,536.02L186.72,523.62M189.62,524.24L202.02,536.64M189.62,536.64L202.02,524.24M204.93,524.86L217.33,537.26M204.93,537.26L217.33,524.86M220.23,525.07L232.63,537.47M220.23,537.47L232.63,525.07M235.53,525.28L247.93,537.68M235.53,537.68L247.93,525.28M250.84,525.48L263.24,537.88M250.84,537.88L263.24,525.48M289.10,526.31L301.50,538.71M289.10,538.71L301.50,526.31M327.36,527.14L339.76,539.54M327.36,539.54L339.76,527.14M365.62,527.76L378.02,540.16M365.62,540.16L378.02,527.76M403.88,528.38L416.27,540.78M403.88,540.78L416.27,528.38M442.13,528.80L454.53,541.20M442.13,541.20L454.53,528.80M480.39,529.00L492.79,541.40M480.39,541.40L492.79,529.00M97.80,520.10L110.20,532.50M97.80,532.50L110.20,520.10M113.10,520.10L125.50,532.50M113.10,532.50L125.50,520.10M128.41,520.10L140.81,532.50M128.41,532.50L140.81,520.10M143.71,520.10L156.11,532.50M143.71,532.50L156.11,520.10M159.02,520.10L171.41,532.50M159.02,532.50L171.41,520.10M174.32,520.10L186.72,532.50M174.32,532.50L186.72,520.10M189.62,520.10L202.02,532.50M189.62,532.50L202.02,520.10M204.93,520.10L217.33,532.50M204.93,532.50L217.33,520.10M220.23,520.10L232.63,532.50M220.23,532.50L232.63,520.10M235.53,520.10L247.93,532.50M235.53,532.50L247.93,520.10M250.84,520.10L263.24,532.50M250.84,532.50L263.24,520.10M289.10,520.10L301.50,532.50M289.10,532.50L301.50,520.10M327.36,520.10L339.76,532.50M327.36,532.50L339.76,520.10M365.62,520.10L378.02,532.50M365.62,532.50L378.02,520.10M403.88,520.10L416.27,532.50M403.88,532.50L416.27,520.10M442.13,520.10L454.53,532.50M442.13,532.50L454.53,520.10M480.39,520.10L492.79,532.50M480.39,532.50L492.79,520.10" stroke="#000" stroke-width="1.25" stroke-linecap="butt"/>
</g>
<path d="M104.00,692.20V29.42H1328.30V692.20Z" stroke="#000" stroke-width="1.0" fill="none" stroke-linecap="square"/>
<path d="M257.04,692.20v4.2M410.07,692.20v4.2M563.11,692.20v4.2M716.15,692.20v4.2M869.19,692.20v4.2M1022.22,692.20v4.2M1175.26,692.20v4.2M1328.30,692.20v4.2M104.00,692.20h-4.2M104.00,609.35h-4.2M104.00,526.50h-4.2M104.00,443.66h-4.2M104.00,360.81h-4.2M104.00,277.96h-4.2M104.00,195.11h-4.2M104.00,112.27h-4.2M104.00,29.42h-4.2" stroke="#000" stroke-width="1.0" fill="none"/>
<g font-family="Liberation Sans" style="font-kerning:none;font-variant-ligatures:none" fill="#000">
<rect x="31.06" y="693.02" width="15.31" height="2.03"/><text transform="scale(0.9945,1)" x="49.83 65.48 81.12" y="701.70" font-size="25.92">400</text>
<rect x="31.06" y="610.17" width="15.31" height="2.03"/><text transform="scale(0.9829,1)" x="50.18 66.34 82.16" y="618.85" font-size="25.92">200</text>
<text transform="scale(0.9945,1)" x="81.12" y="536.00" font-size="25.92">0</text>
<text transform="scale(0.9829,1)" x="50.18 66.34 82.16" y="453.16" font-size="25.92">200</text>
<text transform="scale(0.9945,1)" x="49.83 65.48 81.12" y="370.31" font-size="25.92">400</text>
<text transform="scale(1.0058,1)" x="49.19 64.66 80.13" y="287.46" font-size="25.92">600</text>
<text transform="scale(0.9980,1)" x="49.63 65.22 80.81" y="204.61" font-size="25.92">800</text>
<text transform="scale(0.9841,1)" x="34.50 50.43 66.24 82.05" y="121.77" font-size="25.92">1000</text>
<text transform="scale(0.9751,1)" x="34.89 50.64 66.92 82.87" y="38.92" font-size="25.92">1200</text>
<text transform="scale(0.9769,1)" x="247.51 263.77" y="719.50" font-size="25.92">20</text>
<text transform="scale(0.9945,1)" x="397.51 413.15" y="719.50" font-size="25.92">40</text>
<text transform="scale(1.0116,1)" x="541.74 557.12" y="719.50" font-size="25.92">60</text>
<text transform="scale(0.9998,1)" x="701.28 716.84" y="719.50" font-size="25.92">80</text>
<text transform="scale(0.9806,1)" x="862.65 878.64 894.50" y="719.50" font-size="25.92">100</text>
<text transform="scale(0.9684,1)" x="1031.66 1047.52 1063.91" y="719.50" font-size="25.92">120</text>
<text transform="scale(0.9809,1)" x="1174.42 1190.41 1206.27" y="719.50" font-size="25.92">140</text>
<text transform="scale(0.9921,1)" x="1315.28 1331.09 1346.77" y="719.50" font-size="25.92">160</text>
<text transform="scale(0.9917,1)" x="618.10 640.72 660.86 671.65 690.77 701.36 711.86 729.03 748.41 755.38 775.00 792.96 809.75" y="22.00" font-size="30.52">water balance</text>
<text transform="scale(1.0357,1)" x="620.25 628.94 636.00 658.27 672.55 680.19 689.89 703.47 717.02 733.28 741.89 756.24" y="747.80" font-size="25.43">time [years]</text>
<g transform="rotate(-90 18.90 442.40)"><text transform="scale(1.0424,1)" x="15.94 31.99 54.06 68.61 83.58 99.03 107.23 114.79 124.73 146.79 161.47 169.53" y="442.40" font-size="25.43">amount [mol]</text></g>
</g>
<rect x="708.0" y="41.9" width="607.80" height="221.70" rx="4.2" ry="4.2" fill="#fff" stroke="#cccccc" stroke-width="1.1"/>
<g font-family="Liberation Sans" style="font-kerning:none;font-variant-ligatures:none" fill="#000">
<path d="M717.7,61.65H766.1" stroke="#4169e1" stroke-width="3.75" stroke-linecap="square" fill="none"/>
<text transform="scale(1.0514,1)" x="747.70 765.56 781.61 789.90 805.05 813.64 821.45 827.84 842.23 849.80 865.35 874.19 889.48" y="70.10" font-size="25.43">water in drum</text>
<path d="M717.7,97.36H766.1" stroke="#ffa500" stroke-width="3.75" stroke-linecap="square" fill="none"/>
<text transform="scale(1.0340,1)" x="760.44 767.02 782.57 791.05 805.65 821.43 829.35 845.61 854.10 868.69 883.40 891.40 909.53 925.79 934.28 949.64 958.30 965.67 978.98 993.75 1008.24 1020.96 1036.57 1058.86 1073.46 1088.17 1096.26 1111.33 1124.69 1133.28 1141.66 1155.23 1170.31 1184.49 1193.20 1199.46 1214.23 1228.72" y="105.90" font-size="25.43">integrated water consumed by reactions</text>
<path d="M717.7,133.07H766.1" stroke="#008000" stroke-width="3.75" stroke-linecap="square" fill="none"/>
<text transform="scale(1.0464,1)" x="751.37 757.81 773.22 781.57 795.99 811.61 819.41 835.52 843.86 858.29 872.91 880.89 893.35 908.96 923.39 937.89 953.41 962.02 970.32 978.10 984.45 999.48 1012.81 1020.32 1035.09 1048.52 1063.73 1072.34 1080.25 1094.68 1109.18 1124.09 1138.73 1152.53 1168.66 1177.82" y="141.70" font-size="25.43">integrated vapour flux over boundary</text>
<path d="M717.7,168.78H766.1" stroke="#ff0000" stroke-width="3.75" stroke-linecap="square" fill="none"/>
<text transform="scale(1.0502,1)" x="748.64 755.04 770.40 778.70 793.08 808.64 816.40 832.47 840.77 855.15 869.74 877.55 884.03 890.26 905.11 920.03 926.26 940.85 949.11 956.86 963.18 978.15 991.45 998.91 1013.63 1027.01 1042.17 1050.77 1058.62 1073.01 1087.45 1102.30 1116.89 1130.65 1146.72 1155.85" y="177.50" font-size="25.43">integrated liquid flux over boundary</text>
<path d="M717.5,204.49H766.4" stroke="#000" stroke-width="3.75" stroke-dasharray="13.5 5.9" fill="none"/>
<text transform="scale(1.0071,1)" x="781.44 790.11 804.73 817.80 824.48 839.97 854.24 870.21 876.41 884.86 903.43 920.02 928.82 944.54 953.29 960.87 971.16 986.23 1001.88 1010.24 1017.41 1033.66 1046.65 1062.64 1069.37 1075.02 1091.23 1106.40 1113.04 1127.54 1136.30 1144.16 1159.88 1168.63 1177.58 1186.24 1200.19 1215.64 1230.12 1239.04 1245.58 1260.75 1275.60 1289.25" y="213.30" font-size="25.43">residual water (not available for reactions)</text>
<path d="M717.7,240.20H766.1" stroke="#800080" stroke-width="3.75" stroke-linecap="square" fill="none"/>
<text transform="scale(0.9654,1)" x="815.74 838.36 854.53 867.73 880.51 889.70 904.40 920.85 926.95 943.72 959.08 973.46" y="249.10" font-size="25.43">mass balance</text>
</g>
</svg>
</body></html>
